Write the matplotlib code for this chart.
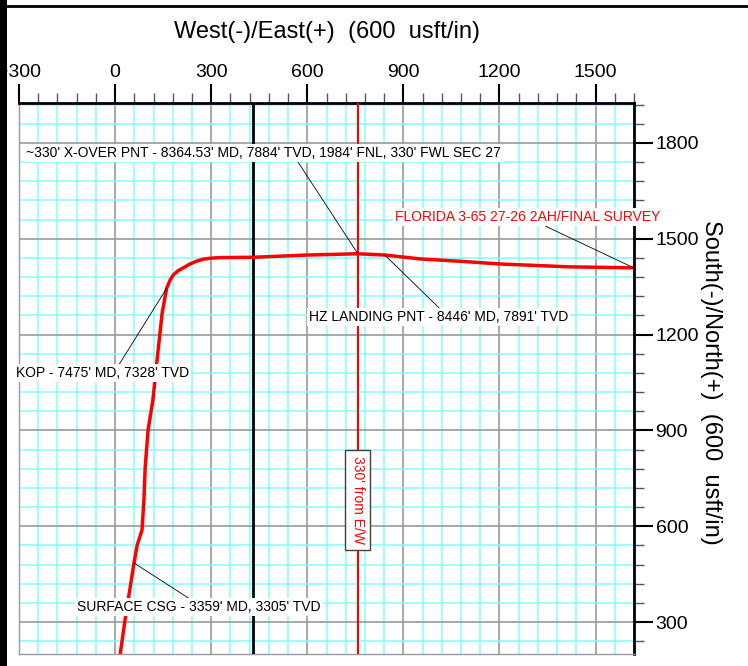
import matplotlib
matplotlib.use("Agg")
import matplotlib.pyplot as plt
from matplotlib.patches import Rectangle
from matplotlib.lines import Line2D
from matplotlib.ticker import MultipleLocator, FixedLocator

plt.rcParams['font.family'] = ['Liberation Sans', 'DejaVu Sans']

# well path (usft)
ew = [16, 31, 59, 69, 84, 90, 94, 103, 118, 131, 147, 161, 172, 182, 197, 213,
      234, 255, 275, 296, 328, 431, 600, 758, 842, 951, 1100, 1201, 1419, 1619]
ns = [200, 306, 485, 541, 588, 682, 785, 901, 995, 1120, 1268, 1345, 1371, 1387,
      1400, 1409, 1421, 1430, 1436, 1439, 1441, 1442, 1449, 1453, 1449, 1437,
      1428, 1421, 1412, 1409]

x_ticks = [-300, 0, 300, 600, 900, 1200, 1500]
y_ticks = [300, 600, 900, 1200, 1500, 1800]

section_line_x = 430      # black section line
offset_line_x = 758       # 330' from E/W hard line
offset_label_y = 682

# annotated points on the path
kop = (161, 1345)
surface_csg = (59, 485)
xover = (758, 1453)
hz_landing = (842, 1449)
final_survey = (1619, 1409)

fig = plt.figure(figsize=(7.48, 6.66), dpi=100)
ax = fig.add_axes([19 / 748, 12 / 666, 615 / 748, 551 / 666])
ax.set_xlim(-300, 1620)
ax.set_ylim(200, 1925)

# ticks on top and right
ax.xaxis.tick_top()
ax.yaxis.tick_right()
ax.xaxis.set_major_locator(FixedLocator(x_ticks))
ax.yaxis.set_major_locator(FixedLocator(y_ticks))
ax.xaxis.set_minor_locator(MultipleLocator(60))
ax.yaxis.set_minor_locator(MultipleLocator(60))
ax.tick_params(which='major', length=14, width=1.5, labelsize=14, pad=2, color='black')
ax.tick_params(which='minor', length=7, width=1.0, color='#555555')
ax.tick_params(axis='y', which='major', pad=1.5)

# graph paper grid
ax.grid(which='minor', color='#80ffff', lw=1.1)
ax.grid(which='major', color='#999999', lw=1.2)
ax.set_axisbelow(True)

for s in ['top', 'right']:
    ax.spines[s].set_linewidth(2)
    ax.spines[s].set_color('black')
for s in ['left', 'bottom']:
    ax.spines[s].set_linewidth(1)
    ax.spines[s].set_color('#999999')

ax.set_xlabel('West(-)/East(+)  (600  usft/in)', fontsize=17, va='center')
ax.xaxis.set_label_position('top')
ax.xaxis.set_label_coords((327 - 19) / 615, (666 - 38 - 12) / 551)
ax.set_ylabel('South(-)/North(+)  (600  usft/in)', fontsize=17, rotation=270,
              va='center', ha='center')
ax.yaxis.set_label_position('right')
ax.yaxis.set_label_coords((722 - 19) / 615, (666 - 382 - 12) / 551)

# lease / hard lines
ax.axvline(section_line_x, color='black', lw=2, zorder=3)
ax.axvline(offset_line_x, color='red', lw=1.5, zorder=3)
ax.text(offset_line_x, offset_label_y, "330' from E/W", color='red', fontsize=10,
        rotation=270, ha='center', va='center', zorder=6,
        bbox=dict(facecolor='white', edgecolor='#404040', lw=1, pad=4))

# well path
ax.plot(ew, ns, color='red', lw=2.5, zorder=4, solid_capstyle='butt',
        solid_joinstyle='round')

box = dict(facecolor='white', edgecolor='none', pad=1.5)
def label(txt, xy, pos, rel, color='black'):
    ax.annotate(txt, xy=xy, xytext=pos, textcoords='figure pixels',
                ha='left', va='center', fontsize=10, color=color, zorder=7,
                bbox=box, annotation_clip=False,
                arrowprops=dict(arrowstyle='-', color='black', lw=0.6,
                                shrinkA=0, shrinkB=0, relpos=rel))

label("~330' X-OVER PNT - 8364.53' MD, 7884' TVD, 1984' FNL, 330' FWL SEC 27",
      xover, (26, 666 - 153), (0.57, 0))
label("HZ LANDING PNT - 8446' MD, 7891' TVD", hz_landing, (309, 666 - 317), (0.51, 1))
label("FLORIDA 3-65 27-26 2AH/FINAL SURVEY", final_survey, (395, 666 - 217), (0.55, 0),
      color='red')
label("KOP - 7475' MD, 7328' TVD", kop, (16, 666 - 373), (0.59, 1))
label("SURFACE CSG - 3359' MD, 3305' TVD", surface_csg, (77, 666 - 607), (0.47, 1))

# page frame bits
fig.add_artist(Rectangle((0, 0), 7 / 748, 1, transform=fig.transFigure,
                         facecolor='black', edgecolor='none', zorder=10))
fig.add_artist(Line2D([7 / 748, 1], [1 - 5.5 / 666, 1 - 5.5 / 666],
                      transform=fig.transFigure, color='black', lw=2, zorder=10))

fig.savefig('out.png', dpi=100)
